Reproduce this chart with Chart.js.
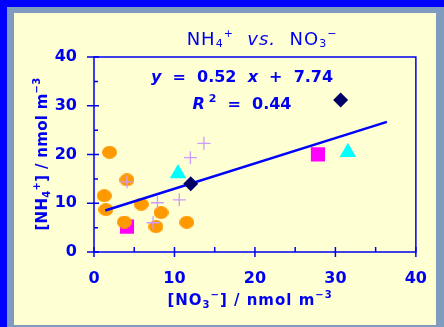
<!DOCTYPE html>
<html lang="en">
<head>
<meta charset="UTF-8">
<title>NH4+ vs. NO3-</title>
<script src="https://cdn.jsdelivr.net/npm/chart.js@4.4.1/dist/chart.umd.min.js"></script>
<style>
  html, body { margin: 0; padding: 0; }
  body { width: 444px; height: 327px; background: #7f9bc0; position: relative; overflow: hidden; }
  #topband { position: absolute; left: 0; top: 0; width: 444px; height: 7px; background: #0000ff; }
  #leftband { position: absolute; left: 0; top: 0; width: 7px; height: 327px; background: #0000ff; }
  #panel { position: absolute; left: 14px; top: 13px; width: 422px; height: 312px; background: #ffffd4; }
  #wrap { position: absolute; left: 0; top: 0; width: 444px; height: 327px; }
</style>
</head>
<body>
<div id="topband"></div>
<div id="leftband"></div>
<div id="panel"></div>
<div id="wrap"><canvas id="chart"></canvas></div>
<script>
// values (x = NO3-, y = NH4+, nmol m-3)
var orangeX = [1.93, 4.1, 1.27, 1.48, 5.87, 8.33, 3.77, 7.7, 11.53];
var orangeY = [20.45, 14.8, 11.55, 8.7, 9.8, 8.1, 6.15, 5.2, 6.1];
var magentaX = [4.1, 27.83];
var magentaY = [5.2, 20.04];
var cyanX = [10.44, 31.55];
var cyanY = [16.1, 20.47];
var navyX = [12.02, 30.65];
var navyY = [14.0, 31.2];
var plusX = [4.1, 11.98, 7.88, 10.6, 7.34, 13.66];
var plusY = [14.4, 19.35, 10.1, 10.7, 6.0, 22.3];
var fitX = [1.4, 36.4];
var fitY = [8.5, 26.7];

var xTicks = [0, 10, 20, 30, 40];
var yTicks = [0, 10, 20, 30, 40];
var xMinor = [5, 15, 25, 35];
var yMinor = [5, 15, 25, 35];

var BLUE = '#0000f0';
var FONT = '"DejaVu Sans", Verdana, sans-serif';

function pts(xs, ys) {
    return xs.map(function (x, i) { return { x: x, y: ys[i] }; });
}

function ellipseImg(w, h, color) {
    var c = document.createElement('canvas');
    c.width = w; c.height = h;
    var g = c.getContext('2d');
    g.fillStyle = color;
    g.beginPath();
    g.ellipse(w / 2, h / 2, w / 2, h / 2, 0, 0, Math.PI * 2);
    g.fill();
    return c;
}

// draw a row of text pieces (sub/superscripts), centred on cx
function drawRuns(ctx, runs, cx, cy, spacing) {
    var total = 0;
    ctx.letterSpacing = spacing || '0px';
    runs.forEach(function (r) { ctx.font = r.f; r.w = ctx.measureText(r.t).width; total += r.w; });
    var x = cx - total / 2;
    ctx.textBaseline = 'middle';
    ctx.textAlign = 'left';
    runs.forEach(function (r) {
        ctx.font = r.f;
        ctx.fillText(r.t, x, cy + (r.dy || 0));
        x += r.w;
    });
    ctx.letterSpacing = '0px';
}

var texts = {
    id: 'texts',
    beforeDatasetsDraw: function (chart) {
        var ctx = chart.ctx, a = chart.chartArea;
        var xs = chart.scales.x, ys = chart.scales.y;
        ctx.save();
        ctx.strokeStyle = BLUE;
        ctx.lineWidth = 1.5;
        ctx.strokeRect(a.left, a.top, a.right - a.left, a.bottom - a.top);
        ctx.beginPath();
        xTicks.forEach(function (v) { var p = xs.getPixelForValue(v); ctx.moveTo(p, a.bottom - 5); ctx.lineTo(p, a.bottom + 5); });
        xMinor.forEach(function (v) { var p = xs.getPixelForValue(v); ctx.moveTo(p, a.bottom - 5); ctx.lineTo(p, a.bottom); });
        yTicks.forEach(function (v) { var p = ys.getPixelForValue(v); ctx.moveTo(a.left - 7, p); ctx.lineTo(a.left + 5, p); });
        yMinor.forEach(function (v) { var p = ys.getPixelForValue(v); ctx.moveTo(a.left, p); ctx.lineTo(a.left + 4, p); });
        ctx.stroke();
        ctx.restore();
    },
    afterDraw: function (chart) {
        var ctx = chart.ctx;
        ctx.save();
        ctx.fillStyle = BLUE;
        var big = '18px ' + FONT, sm = '11px ' + FONT;
        drawRuns(ctx, [
            { t: 'NH', f: big }, { t: '4', f: sm, dy: 4 }, { t: '+', f: sm, dy: -6 },
            { t: '  vs.  ', f: 'italic 18px ' + FONT },
            { t: 'NO', f: big }, { t: '3', f: sm, dy: 4 }, { t: '\u2212', f: sm, dy: -6 }
        ], 262, 40, '1px');

        var b = 'bold 16px ' + FONT, bi = 'italic bold 16px ' + FONT;
        drawRuns(ctx, [
            { t: 'y', f: bi }, { t: '  =  0.52  ', f: b }, { t: 'x', f: bi }, { t: '  +  7.74', f: b }
        ], 242, 78);
        drawRuns(ctx, [
            { t: 'R', f: bi }, { t: ' 2', f: 'bold 11px ' + FONT, dy: -6 }, { t: '  =  0.44', f: b }
        ], 242, 105);

        var t = 'bold 15px ' + FONT, ts = 'bold 10px ' + FONT;
        drawRuns(ctx, [
            { t: '[NO', f: t }, { t: '3', f: ts, dy: 4 }, { t: '\u2212', f: ts, dy: -6 },
            { t: '] / nmol m', f: t }, { t: '\u22123', f: ts, dy: -6 }
        ], 250, 301, '1px');

        ctx.translate(43, 154);
        ctx.rotate(-Math.PI / 2);
        drawRuns(ctx, [
            { t: '[NH', f: t }, { t: '4', f: ts, dy: 4 }, { t: '+', f: ts, dy: -6 },
            { t: '] / nmol m', f: t }, { t: '\u22123', f: ts, dy: -6 }
        ], 0, 0, '0.3px');
        ctx.restore();
    }
};

var tickFont = { family: FONT, size: 16, weight: 'bold' };

new Chart(document.getElementById('chart'), {
    type: 'scatter',
    data: {
        datasets: [
            { label: 'navy', data: pts(navyX, navyY), pointStyle: 'rectRot', pointRadius: 7.5, backgroundColor: '#000066', borderColor: '#000066', borderWidth: 0 },
            { label: 'cyan', data: pts(cyanX, cyanY), pointStyle: 'triangle', pointRadius: 9.5, backgroundColor: '#00ffff', borderColor: '#00ffff', borderWidth: 0 },
            { label: 'plus', data: pts(plusX, plusY), pointStyle: 'cross', pointRadius: 6.5, backgroundColor: '#cc99ff', borderColor: '#cc99ff', borderWidth: 1.3 },
            { type: 'line', label: 'fit', data: pts(fitX, fitY), showLine: true, borderColor: '#0000ff', borderWidth: 2.5, pointRadius: 0, fill: false },
            { label: 'orange', data: pts(orangeX, orangeY), pointStyle: ellipseImg(15, 13, '#ff9900'), pointRadius: 7 },
            { label: 'magenta', data: pts(magentaX, magentaY), pointStyle: 'rect', pointRadius: 10, backgroundColor: '#ff00ff', borderColor: '#ff00ff', borderWidth: 0 }
        ]
    },
    options: {
        responsive: true,
        maintainAspectRatio: false,
        animation: false,
        layout: { padding: { left: 0, right: 25, top: 57, bottom: 0 } },
        plugins: { legend: { display: false }, tooltip: { enabled: false } },
        scales: {
            x: {
                type: 'linear', min: 0, max: 40,
                grid: { display: false, drawTicks: false },
                border: { display: false },
                ticks: { color: BLUE, font: tickFont, padding: 17, maxRotation: 0 },
                afterBuildTicks: function (s) { s.ticks = xTicks.map(function (v) { return { value: v }; }); },
                afterFit: function (s) { s.height = 75; }
            },
            y: {
                type: 'linear', min: 0, max: 40,
                grid: { display: false, drawTicks: false },
                border: { display: false },
                ticks: { color: BLUE, font: tickFont, padding: 17 },
                afterBuildTicks: function (s) { s.ticks = yTicks.map(function (v) { return { value: v }; }); },
                afterFit: function (s) { s.width = 94; }
            }
        }
    },
    plugins: [texts]
});
</script>
</body>
</html>
